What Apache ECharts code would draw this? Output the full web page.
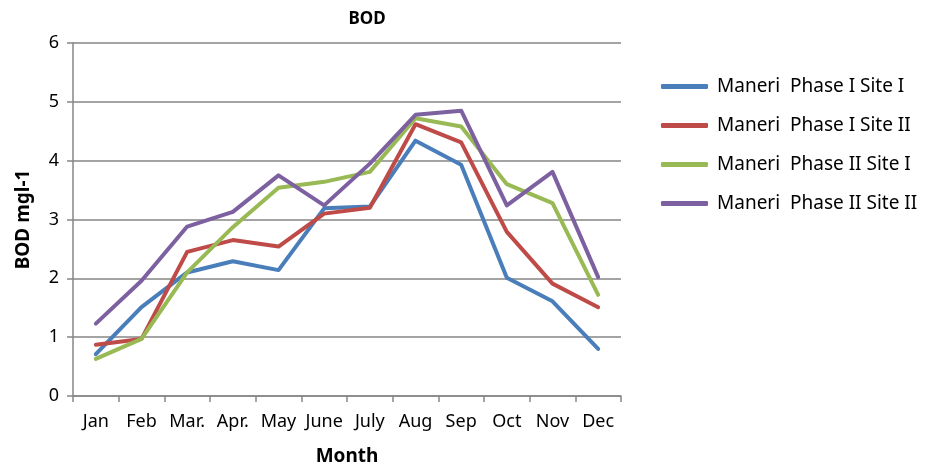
<!DOCTYPE html>
<html>
<head>
<meta charset="utf-8">
<script src="https://cdn.jsdelivr.net/npm/echarts@6/dist/echarts.min.js"></script>
<style>html,body{margin:0;padding:0;background:#fff}#c{width:932px;height:470px}</style>
</head>
<body>
<div id="c"></div>
<script>
const months = ['Jan','Feb','Mar.','Apr.','May','June','July','Aug','Sep','Oct','Nov','Dec'];
const yTicks = [0,1,2,3,4,5,6];
const seriesNames = ['Maneri  Phase I Site I','Maneri  Phase I Site II','Maneri  Phase II Site I','Maneri  Phase II Site II'];
const phase1Site1 = [0.71,1.51,2.10,2.29,2.14,3.19,3.22,4.34,3.93,2.01,1.61,0.80];
const phase1Site2 = [0.87,0.97,2.45,2.65,2.54,3.10,3.20,4.62,4.31,2.79,1.91,1.51];
const phase2Site1 = [0.63,0.97,2.10,2.87,3.54,3.64,3.81,4.72,4.58,3.60,3.28,1.72];
const phase2Site2 = [1.23,1.96,2.88,3.13,3.75,3.24,3.95,4.78,4.85,3.24,3.81,2.02];
const colors = ['#4a7ebb','#be4b48','#98b954','#7d60a0'];
const allData = [phase1Site1,phase1Site2,phase2Site1,phase2Site2];

const font = 'Noto Sans';
const chart = echarts.init(document.getElementById('c'), null, {renderer:'canvas'});
chart.setOption({
  animation:false,
  backgroundColor:'#fff',
  color: colors,
  title:{text:'BOD', left:362, top:6, textAlign:'center',
    textStyle:{fontFamily:font, fontSize:17, fontWeight:'bold', color:'#000'}},
  legend:{
    orient:'vertical', left:656, top:72, icon:'roundRect',
    itemWidth:47, itemHeight:5, itemGap:20,
    textStyle:{fontFamily:font, fontSize:19, color:'#000', padding:[0,0,0,4]},
    data: seriesNames
  },
  grid:{left:73, right:311, top:43, bottom:74, containLabel:false, outerBoundsMode:'none'},
  xAxis:{
    type:'category', data:months, boundaryGap:true,
    name:'Month', nameLocation:'middle', nameGap:51,
    nameTextStyle:{fontFamily:font, fontSize:19, fontWeight:'bold', color:'#000'},
    axisLine:{lineStyle:{color:'#868686', width:1.5}},
    axisTick:{show:true, length:6, interval:0, lineStyle:{color:'#868686', width:1.5}},
    axisLabel:{fontFamily:font, fontSize:18, color:'#000', margin:17, interval:0},
    splitLine:{show:false}
  },
  yAxis:{
    type:'value', min:0, max:6, interval:1,
    name:'BOD mgl-1', nameLocation:'middle', nameGap:40, nameRotate:90,
    nameTextStyle:{fontFamily:font, fontSize:19, fontWeight:'bold', color:'#000'},
    axisLine:{show:true, lineStyle:{color:'#868686', width:1.5}},
    axisTick:{show:true, length:6, lineStyle:{color:'#868686', width:1.5}},
    axisLabel:{fontFamily:font, fontSize:18, color:'#000', margin:14,
      formatter:(v)=> yTicks.includes(v) ? String(v) : ''},
    splitLine:{show:true, lineStyle:{color:'#868686', width:1.5}}
  },
  series: seriesNames.map((n,i)=>({
    name:n, type:'line', data:allData[i], symbol:'none',
    lineStyle:{width:4, color:colors[i], join:'round', cap:'round'},
    itemStyle:{color:colors[i]}
  }))
});
</script>
</body>
</html>
